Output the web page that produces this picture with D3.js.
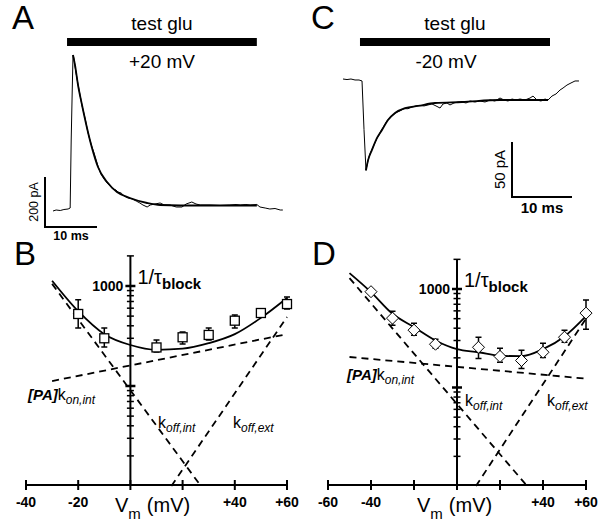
<!DOCTYPE html>
<html>
<head>
<script src="https://d3js.org/d3.v7.min.js"></script>
<style>
  body { margin: 0; background: #fff; }
  text { font-family: "Liberation Sans", Arial, sans-serif; fill: #000; }
</style>
</head>
<body>
<script>
// ---------- data ----------
// traces: [time (ms), current (pA)]
let traceA = [[0,-4],[0.6,0],[1.4,-2],[2.1,2],[2.9,4],[3.3,8],[3.5,280],[3.7,480],[3.85,620],[4.0,608],
  [4.4,552],[4.8,504],[5.2,460],[5.6,416],[6.2,364],[6.7,312],[7.1,280],[7.5,252],[7.9,228],[8.3,200],
  [8.7,172],[9.2,144],[9.8,124],[10.4,108],[11.0,96],[11.5,84],[12.1,80],[12.5,72],[13.1,68],[13.7,56],
  [14.4,48],[15.2,44],[16.0,36],[16.7,28],[17.3,20],[18.1,12],[18.7,20],[19.6,24],[20.6,28],[21.4,20],
  [22.5,20],[23.7,12],[24.8,12],[25.6,24],[26.7,32],[27.5,24],[28.3,20],[30.2,20],[32.1,18],[34.0,20],
  [35.2,22],[36.0,20],[37.1,22],[37.9,20],[39.2,22],[39.8,12],[40.8,8],[41.7,4],[42.7,6],[43.7,0],[44.2,0]];
let fitA = [[3.85,620],[4.23,580],[4.81,500],[5.58,420],[6.54,328],[7.5,248],[8.65,172],[10.4,112],
  [12.3,72],[14.8,48],[18.1,28],[20.6,20],[28.3,18],[39.2,18]];
let traceC = [[0,0],[0.67,-0.5],[1.33,0],[2,-0.9],[2.67,-0.9],[3.17,-1.8],[3.5,-46],[3.83,-83],[4.17,-74],
  [4.5,-68],[4.83,-64],[5.33,-58],[5.67,-54],[6,-51],[6.33,-47],[6.67,-44],[7,-41],[7.33,-38],[7.67,-36],
  [8,-34],[8.5,-32],[9,-30],[9.5,-29],[10.17,-27],[10.83,-27],[11.5,-25.5],[12.17,-24.5],[12.83,-24],
  [13.5,-24.5],[14.17,-23.6],[14.83,-22.7],[15.5,-24.5],[16.17,-26.4],[16.67,-22.7],[17.33,-21.8],
  [17.83,-23.6],[18.5,-21.8],[19.17,-20.9],[19.83,-20.9],[20.5,-21.8],[21.17,-20],[22,-20.9],[22.83,-20],
  [23.67,-20.9],[24.5,-19.1],[25.33,-20],[26.17,-17.3],[26.83,-19.1],[27.5,-20],[28.17,-18.2],
  [28.83,-19.1],[29.5,-18.2],[30.33,-19.1],[31.17,-17.3],[31.67,-15.5],[32.33,-19.1],[33,-20],
  [33.67,-18.2],[34.17,-19.1],[34.83,-15.5],[35.5,-13.6],[36.17,-10],[36.67,-8.2],[37.33,-5.5],
  [38,-3.6],[38.67,-1.8],[39.33,-1.8]];
let fitC = [[3.83,-83],[4.17,-74],[4.83,-64.5],[5.67,-53.6],[6.5,-46.4],[7.5,-37.3],[8.67,-30.9],
  [10.33,-26.4],[12.5,-24.5],[15.33,-21.8],[19.83,-20.9],[26.17,-19.1],[34.17,-19.1]];
let gluA = [2.7, 39.2];   // ms, application bar
let gluC = [2.83, 34.5];

// B: 1/tau_block vs Vm
let vB = [-20, -10, 10, 20, 30, 40, 50, 60];
let rateB = [525, 300, 243, 307, 324, 450, 537, 660];
let loB = [380, 245, 219, 263, 288, 380, 490, 589];
let hiB = [730, 380, 288, 347, 380, 513, 589, 776];
let fitVB = [-30, -20, -10, 0, 10, 20, 30, 40, 50, 60];
let fitRateB = [1130, 560, 330, 257, 230, 236, 268, 330, 480, 760];
let konB = [[-30, 112], [60, 330]];
let koffIntB = [[-30, 1050], [27, 10]];
let koffExtB = [[15.7, 10], [60, 490]];

// D
let vD = [-40, -30, -20, -10, 10, 20, 30, 40, 50, 60];
let rateD = [939, 506, 382, 275, 256, 207, 188, 228, 324, 569];
let loD = [900, 429, 339, 250, 197, 180, 156, 202, 288, 391];
let hiD = [980, 596, 450, 309, 324, 250, 239, 281, 382, 772];
let fitVD = [-50, -40, -30, -20, -10, 0, 10, 20, 30, 40, 50, 60];
let fitRateD = [1450, 930, 560, 410, 300, 245, 228, 210, 208, 245, 330, 530];
let konD = [[-50, 204], [60, 123]];
let koffIntD = [[-50, 1290], [32.6, 10]];
let koffExtD = [[8.8, 10], [60, 500]];

let xTicksB = [-40, -20, 0, 20, 40, 60];
let xLabelsB = [-40, -20, 40, 60];
let xTicksD = [-60, -40, -20, 0, 20, 40, 60];
let xLabelsD = [-60, -40, 40, 60];
let majorY = [100, 1000];
let minorY = [20, 30, 40, 50, 60, 70, 80, 90, 200, 300, 400, 500, 600, 700, 800, 900, 2000];

// ---------- drawing ----------
let svg = d3.select("body").append("svg").attr("width", 599).attr("height", 524);

function letter(s, x, y) {
  svg.append("text").attr("x", x).attr("y", y).attr("font-size", 33).text(s);
}
letter("A", 12, 29); letter("C", 311, 29); letter("B", 14, 265); letter("D", 312, 265);

function drawTrace(c) {
  let x = d3.scaleLinear().domain([0, 10]).range([c.x0, c.x0 + c.pxPer10ms]);
  let y = d3.scaleLinear().domain([0, c.barPA]).range([c.y0, c.y0 - c.pxPerBar]);
  let g = svg.append("g");
  g.append("rect").attr("x", x(c.glu[0])).attr("y", 38)
    .attr("width", x(c.glu[1]) - x(c.glu[0])).attr("height", 8);
  let mid = (x(c.glu[0]) + x(c.glu[1])) / 2;
  g.append("text").attr("x", mid).attr("y", 30).attr("text-anchor", "middle")
    .attr("font-size", 19).text("test glu");
  g.append("text").attr("x", c.vx).attr("y", 68).attr("text-anchor", "middle")
    .attr("font-size", 19).text(c.vlabel);
  let line = d3.line().x(d => x(d[0])).y(d => y(d[1]));
  g.append("path").datum(c.raw).attr("d", line).attr("fill", "none")
    .attr("stroke", "#000").attr("stroke-width", 1);
  g.append("path").datum(c.fit).attr("d", line.curve(d3.curveMonotoneX)).attr("fill", "none")
    .attr("stroke", "#000").attr("stroke-width", 1.8);
  // scale bar
  let bx = c.bar[0], by = c.bar[1];
  let w = x(10) - x(0), h = y(0) - y(c.barPA);
  g.append("path").attr("d", "M" + bx + "," + (by - h) + "V" + by + "H" + (bx + w))
    .attr("fill", "none").attr("stroke", "#000").attr("stroke-width", 2);
  g.append("text").attr("transform", "translate(" + (bx - 7) + "," + (by - h / 2) + ") rotate(-90)")
    .attr("text-anchor", "middle").attr("font-size", c.fs).text(c.barPA + " pA");
  g.append("text").attr("x", bx + w / 2).attr("y", c.msY).attr("text-anchor", "middle")
    .attr("font-size", c.fs).attr("font-weight", "bold").text("10 ms");
}

drawTrace({ x0: 53, y0: 210, pxPer10ms: 52, barPA: 200, pxPerBar: 50, glu: gluA, vx: 162, vlabel: "+20 mV",
  raw: traceA, fit: fitA, bar: [45, 227], fs: 12.5, msY: 240 });
drawTrace({ x0: 343, y0: 79, pxPer10ms: 60, barPA: 50, pxPerBar: 55, glu: gluC, vx: 446, vlabel: "-20 mV",
  raw: traceC, fit: fitC, bar: [512, 197], fs: 15, msY: 213 });

function sub(t, main, subs, italicMain) {
  t.append("tspan").attr("font-size", 16).text(main);
  t.append("tspan").attr("font-size", 12).attr("font-style", "italic").attr("dy", 4).text(subs);
}

function drawRate(c) {
  let x = d3.scaleLinear().domain(c.xDomain).range(c.xRange);
  let y = d3.scaleLog().domain([10, 1000]).range(c.yRange);
  let g = svg.append("g");
  let line = d3.line().x(d => x(d[0])).y(d => y(d[1]));

  [c.kon, c.koffInt, c.koffExt].forEach(function (d) {
    g.append("path").datum(d).attr("d", line).attr("fill", "none").attr("stroke", "#000")
      .attr("stroke-width", 1.8).attr("stroke-dasharray", "7,5");
  });
  let fit = c.fitV.map((v, i) => [v, c.fitRate[i]]);
  g.append("path").datum(fit).attr("d", d3.line().x(d => x(d[0])).y(d => y(d[1])).curve(d3.curveMonotoneX))
    .attr("fill", "none").attr("stroke", "#000").attr("stroke-width", 1.8);

  // axes
  let x0 = x(0), axY = 485;
  g.append("line").attr("x1", c.xRange[0]).attr("x2", c.xRange[1]).attr("y1", axY).attr("y2", axY)
    .attr("stroke", "#000").attr("stroke-width", 2);
  c.xTicks.forEach(function (v) {
    g.append("line").attr("x1", x(v)).attr("x2", x(v)).attr("y1", axY - 5).attr("y2", axY + 5)
      .attr("stroke", "#000").attr("stroke-width", 2);
  });
  c.xLabels.forEach(function (v) {
    g.append("text").attr("x", x(v)).attr("y", 507).attr("text-anchor", "middle")
      .attr("font-size", 14).attr("font-weight", "bold").text((v > 0 ? "+" : "") + v);
  });
  g.append("line").attr("x1", x0).attr("x2", x0).attr("y1", y(2000)).attr("y2", axY)
    .attr("stroke", "#000").attr("stroke-width", 2);
  majorY.forEach(function (v) {
    g.append("line").attr("x1", x0 - 5).attr("x2", x0 + 5).attr("y1", y(v)).attr("y2", y(v))
      .attr("stroke", "#000").attr("stroke-width", 2.5);
  });
  minorY.forEach(function (v) {
    g.append("line").attr("x1", x0 - 3.5).attr("x2", x0 + 3.5).attr("y1", y(v)).attr("y2", y(v))
      .attr("stroke", "#000").attr("stroke-width", 1.5);
  });
  g.append("text").attr("x", x0 - 7).attr("y", y(1000) + 5).attr("text-anchor", "end")
    .attr("font-size", 14).attr("font-weight", "bold").text("1000");
  let tl = g.append("text").attr("x", x0 + 7).attr("y", y(1000) - 2);
  tl.append("tspan").attr("font-size", 20).text("1/τ");
  tl.append("tspan").attr("font-size", 15).attr("font-weight", "bold").attr("dy", 5).text("block");

  let vl = g.append("text").attr("x", c.vmX).attr("y", 512);
  vl.append("tspan").attr("font-size", 20).text("V");
  vl.append("tspan").attr("font-size", 15).attr("dy", 7).text("m");
  vl.append("tspan").attr("font-size", 20).attr("dy", -7).attr("dx", 6).text("(mV)");

  // labels of the components
  let pa = g.append("text").attr("x", c.konLab[0]).attr("y", c.konLab[1]);
  pa.append("tspan").attr("font-size", 15).attr("font-style", "italic").attr("font-weight", "bold").text("[PA]");
  pa.append("tspan").attr("font-size", 16).text("k");
  pa.append("tspan").attr("font-size", 12).attr("font-style", "italic").attr("dy", 4).text("on,int");
  sub(g.append("text").attr("x", c.intLab[0]).attr("y", c.intLab[1]), "k", "off,int");
  sub(g.append("text").attr("x", c.extLab[0]).attr("y", c.extLab[1]), "k", "off,ext");

  // error bars and markers
  c.v.forEach(function (v, i) {
    let px = x(v);
    g.append("path").attr("d", "M" + px + "," + y(c.lo[i]) + "V" + y(c.hi[i]) +
        "M" + (px - 3) + "," + y(c.hi[i]) + "H" + (px + 3) +
        "M" + (px - 3) + "," + y(c.lo[i]) + "H" + (px + 3))
      .attr("stroke", "#000").attr("stroke-width", 1.5).attr("fill", "none");
  });
  c.v.forEach(function (v, i) {
    let px = x(v), py = y(c.rate[i]);
    if (c.shape === "square") {
      g.append("rect").attr("x", px - 4.5).attr("y", py - 4.5).attr("width", 9).attr("height", 9)
        .attr("fill", "#fff").attr("stroke", "#000").attr("stroke-width", 1.3);
    } else {
      g.append("path").attr("d", "M" + px + "," + (py - 6) + "L" + (px + 6) + "," + py + "L" + px + "," +
          (py + 6) + "L" + (px - 6) + "," + py + "Z")
        .attr("fill", "#fff").attr("stroke", "#000").attr("stroke-width", 1);
    }
  });
}

drawRate({ xDomain: [-40, 60], xRange: [26, 287], yRange: [486, 286], xTicks: xTicksB, xLabels: xLabelsB,
  v: vB, rate: rateB, lo: loB, hi: hiB, fitV: fitVB, fitRate: fitRateB,
  kon: konB, koffInt: koffIntB, koffExt: koffExtB, shape: "square", vmX: 115,
  konLab: [28, 400], intLab: [158, 428], extLab: [233, 428] });
drawRate({ xDomain: [-60, 60], xRange: [328, 586], yRange: [486, 289], xTicks: xTicksD, xLabels: xLabelsD,
  v: vD, rate: rateD, lo: loD, hi: hiD, fitV: fitVD, fitRate: fitRateD,
  kon: konD, koffInt: koffIntD, koffExt: koffExtD, shape: "diamond", vmX: 417,
  konLab: [347, 380], intLab: [465, 406], extLab: [547, 406] });
</script>
</body>
</html>
